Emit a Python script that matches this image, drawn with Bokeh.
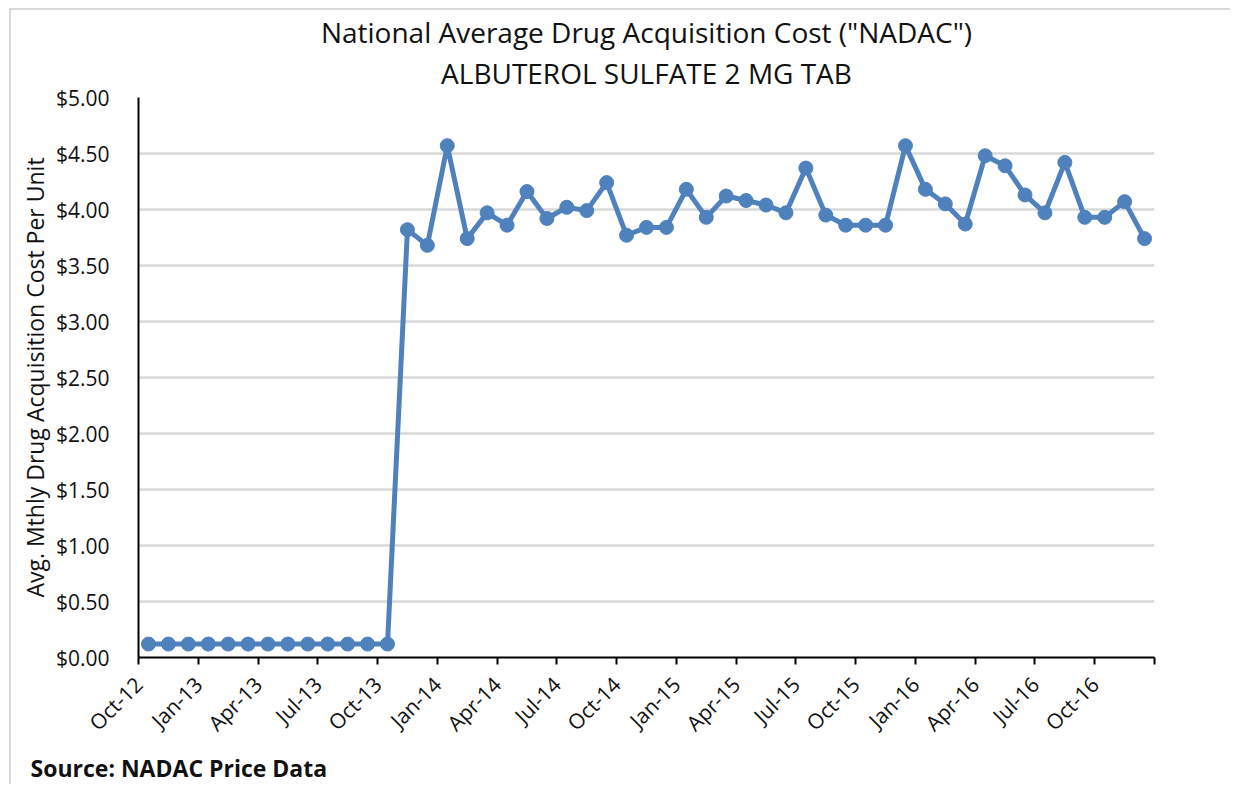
import math
from bokeh.plotting import figure
from bokeh.models import Range1d, FixedTicker, NumeralTickFormatter, Title, ColumnDataSource, LinearAxis
from bokeh.embed import file_html
from bokeh.resources import INLINE

months = ["Oct-12", "Nov-12", "Dec-12", "Jan-13", "Feb-13", "Mar-13", "Apr-13", "May-13", "Jun-13",
          "Jul-13", "Aug-13", "Sep-13", "Oct-13", "Nov-13", "Dec-13", "Jan-14", "Feb-14", "Mar-14",
          "Apr-14", "May-14", "Jun-14", "Jul-14", "Aug-14", "Sep-14", "Oct-14", "Nov-14", "Dec-14",
          "Jan-15", "Feb-15", "Mar-15", "Apr-15", "May-15", "Jun-15", "Jul-15", "Aug-15", "Sep-15",
          "Oct-15", "Nov-15", "Dec-15", "Jan-16", "Feb-16", "Mar-16", "Apr-16", "May-16", "Jun-16",
          "Jul-16", "Aug-16", "Sep-16", "Oct-16", "Nov-16", "Dec-16"]

cost = [0.12, 0.12, 0.12, 0.12, 0.12, 0.12, 0.12, 0.12, 0.12, 0.12, 0.12, 0.12, 0.12,
        3.82, 3.68, 4.57, 3.74, 3.97, 3.86, 4.16, 3.92, 4.02, 3.99, 4.24, 3.77, 3.84, 3.84,
        4.18, 3.93, 4.12, 4.08, 4.04, 3.97, 4.37, 3.95, 3.86, 3.86, 3.86, 4.57, 4.18, 4.05,
        3.87, 4.48, 4.39, 4.13, 3.97, 4.42, 3.93, 3.93, 4.07, 3.74]

tick_labels = ["Oct-12", "Jan-13", "Apr-13", "Jul-13", "Oct-13", "Jan-14", "Apr-14", "Jul-14",
               "Oct-14", "Jan-15", "Apr-15", "Jul-15", "Oct-15", "Jan-16", "Apr-16", "Jul-16",
               "Oct-16", ""]

y_ticks = [0.0, 0.5, 1.0, 1.5, 2.0, 2.5, 3.0, 3.5, 4.0, 4.5, 5.0]

FONT = "Open Sans"
BLUE = "#4F81BD"
TXT = "#111111"

x = [i + 0.5 for i in range(len(months))]
src = ColumnDataSource(dict(x=x, cost=cost, month=months))

p = figure(width=1221, height=776, output_backend="svg", toolbar_location=None,
           x_range=Range1d(0, len(months)), y_range=Range1d(0, 5),
           min_border_left=127, min_border_right=78, min_border_bottom=129, min_border_top=86,
           title='National Average Drug Acquisition Cost ("NADAC")')
p.styles = {"border-top": "2px solid #d9d9d9", "border-left": "2px solid #d9d9d9",
            "margin-left": "9px", "margin-top": "8px"}

p.title.align = "center"
p.title.text_font = FONT
p.title.text_font_size = "28px"
p.title.text_font_style = "normal"
p.title.text_color = TXT
p.title.standoff = 0

# second title line drawn as the label of a tickless top axis
top_axis = LinearAxis(ticker=FixedTicker(ticks=[]), axis_label="ALBUTEROL SULFATE 2 MG TAB")
top_axis.axis_line_color = None
top_axis.major_tick_line_color = None
top_axis.minor_tick_line_color = None
top_axis.major_tick_out = 0
top_axis.major_label_standoff = 0
top_axis.axis_label_text_font = FONT
top_axis.axis_label_text_font_size = "28px"
top_axis.axis_label_text_font_style = "normal"
top_axis.axis_label_text_color = TXT
top_axis.axis_label_standoff = 6
p.add_layout(top_axis, "above")

p.outline_line_color = None
p.background_fill_color = "white"
p.border_fill_color = "white"

# bottom axis
xa = p.below[0]
xa.ticker = FixedTicker(ticks=[3 * k for k in range(len(tick_labels))])
xa.major_label_overrides = {3 * k: lab for k, lab in enumerate(tick_labels)}
xa.major_label_orientation = math.pi / 4
xa.minor_tick_line_color = None
xa.major_tick_in = 0
xa.major_tick_out = 7
xa.major_tick_line_width = 2
xa.major_tick_line_color = "black"
xa.axis_line_color = "black"
xa.axis_line_width = 2
xa.major_label_text_font = FONT
xa.major_label_text_font_size = "21px"
xa.major_label_text_color = TXT
xa.major_label_standoff = 16

# left axis
ya = p.left[0]
ya.ticker = FixedTicker(ticks=y_ticks)
ya.formatter = NumeralTickFormatter(format="$0.00")
ya.minor_tick_line_color = None
ya.major_tick_line_color = None
ya.axis_line_color = "black"
ya.axis_line_width = 2
ya.major_label_text_font = FONT
ya.major_label_text_font_size = "21px"
ya.major_label_text_color = TXT
ya.major_label_standoff = 23
ya.axis_label = "Avg. Mthly Drug Acquisition Cost Per Unit"
ya.axis_label_text_font = FONT
ya.axis_label_text_font_size = "23px"
ya.axis_label_text_font_style = "normal"
ya.axis_label_text_color = TXT
ya.axis_label_standoff = 2

p.xgrid.grid_line_color = None
p.ygrid.grid_line_color = "#d9d9d9"
p.ygrid.grid_line_width = 2.5

p.line("x", "cost", source=src, line_color=BLUE, line_width=5)
p.scatter("x", "cost", source=src, size=14, fill_color=BLUE, line_color=BLUE)

p.add_layout(Title(text="Source: NADAC Price Data", align="left", offset=-108,
                   text_font=FONT, text_font_size="23px", text_font_style="bold",
                   text_color=TXT, standoff=0), "below")

open("out.html", "w").write(file_html(p, INLINE))
